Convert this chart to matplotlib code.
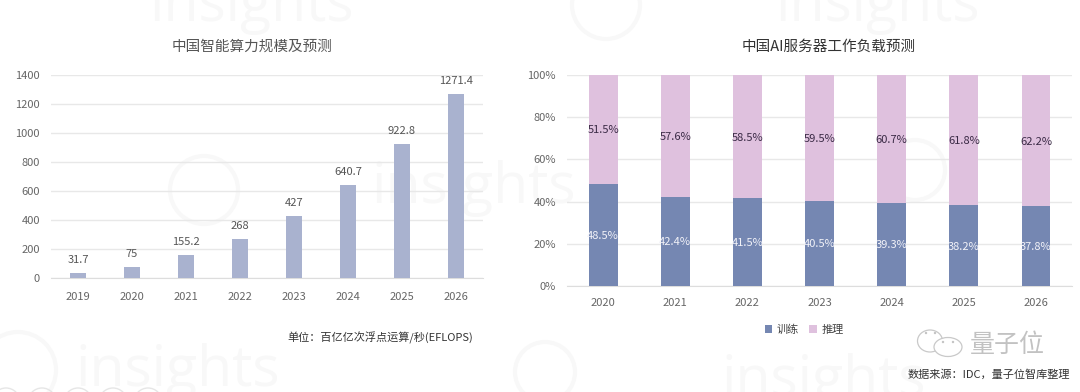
import matplotlib
matplotlib.use('Agg')
import matplotlib.pyplot as plt
from matplotlib.patches import Circle, Ellipse
import numpy as np

plt.rcParams['font.family'] = ['Noto Sans CJK SC', 'DejaVu Sans']

years_left = ['2019', '2020', '2021', '2022', '2023', '2024', '2025', '2026']
compute = [31.7, 75, 155.2, 268, 427, 640.7, 922.8, 1271.4]
compute_labels = ['31.7', '75', '155.2', '268', '427', '640.7', '922.8', '1271.4']

years_right = ['2020', '2021', '2022', '2023', '2024', '2025', '2026']
training = [48.5, 42.4, 41.5, 40.5, 39.3, 38.2, 37.8]
inference = [51.5, 57.6, 58.5, 59.5, 60.7, 61.8, 62.2]

W, H = 1080, 392
fig = plt.figure(figsize=(W / 100, H / 100), dpi=100)


def px_axes(x0, y0, x1, y1):
    # pixel box, y measured from the top
    return fig.add_axes([x0 / W, 1 - y1 / H, (x1 - x0) / W, (y1 - y0) / H])


# faint watermarks behind everything
bg = fig.add_axes([0, 0, 1, 1], zorder=0)
bg.set_xlim(0, W)
bg.set_ylim(H, 0)
bg.axis('off')
wm = '#f8f8f8'
for x, y in [(150, 6), (776, 6), (372, 188), (76, 372), (722, 382)]:
    bg.text(x, y, 'insights', color=wm, fontsize=41, va='center', ha='left',
            family='Open Sans')
for x, y, r in [(204, 190, 34), (606, 5, 34), (18, 370, 38), (545, 372, 30), (915, 170, 30)]:
    bg.add_patch(Circle((x, y), r, fill=False, ec=wm, lw=3))
# row of small rings cut by the bottom edge
for x in [6, 42, 78, 113, 148]:
    bg.add_patch(Circle((x, 402), 14, fill=False, ec='#e6e6e6', lw=1))

# left chart
ax = px_axes(51, 75, 483, 277.7)
ax.set_zorder(1)
ax.patch.set_alpha(0)
x = np.arange(len(years_left))
ax.bar(x, compute, width=0.31, color='#a9b2cf', zorder=3)
for xi, v, s in zip(x, compute, compute_labels):
    ax.text(xi, v + 55, s, ha='center', va='bottom', fontsize=8, color='#555555', zorder=4)
ax.set_xlim(-0.5, 7.5)
ax.set_ylim(0, 1400)
ax.set_yticks(range(0, 1401, 200))
ax.set_xticks(x)
ax.set_xticklabels(years_left)
ax.grid(axis='y', color='#e8e8e8', lw=1, zorder=0)
ax.tick_params(length=0, labelsize=8, labelcolor='#666666')
ax.tick_params(axis='x', pad=10)
ax.tick_params(axis='y', pad=8)
for s in ['top', 'right', 'left']:
    ax.spines[s].set_visible(False)
ax.spines['bottom'].set_color('#dddddd')
fig.text(252 / W, 1 - 47 / H, '中国智能算力规模及预测', ha='center', va='center',
         fontsize=10.5, color='#555555')
fig.text(380 / W, 1 - 338 / H, '单位：百亿亿次浮点运算/秒(EFLOPS)', ha='center', va='center',
         fontsize=8, color='#333333')

# right chart
ax2 = px_axes(567, 75, 1072, 286)
ax2.set_zorder(1)
ax2.patch.set_alpha(0)
x2 = np.arange(len(years_right))
ax2.bar(x2, training, width=0.4, color='#7587b2', zorder=3, label='训练')
ax2.bar(x2, inference, width=0.4, bottom=training, color='#dfc1de', zorder=3, label='推理')
for xi, t, i in zip(x2, training, inference):
    ax2.text(xi, t / 2 - 0.4, '%.1f%%' % t, ha='center', va='center', fontsize=8,
             color='#f2f2f8', zorder=4)
    ax2.text(xi, t + i / 2 - 0.5, '%.1f%%' % i, ha='center', va='center', fontsize=8,
             color='#3a2a45', zorder=4)
ax2.set_xlim(-0.5, 6.5)
ax2.set_ylim(0, 100)
ax2.set_yticks(range(0, 101, 20))
ax2.set_yticklabels(['%d%%' % v for v in range(0, 101, 20)])
ax2.set_xticks(x2)
ax2.set_xticklabels(years_right)
ax2.grid(axis='y', color='#e8e8e8', lw=1, zorder=0)
ax2.tick_params(length=0, labelsize=8, labelcolor='#666666')
ax2.tick_params(axis='x', pad=9)
ax2.tick_params(axis='y', pad=8)
for s in ['top', 'right', 'left']:
    ax2.spines[s].set_visible(False)
ax2.spines['bottom'].set_color('#dddddd')
fig.text(829 / W, 1 - 47 / H, '中国AI服务器工作负载预测', ha='center', va='center',
         fontsize=10.5, color='#333333')
ax2.legend(loc='center', bbox_to_anchor=(804 / W, 1 - 330 / H), bbox_transform=fig.transFigure,
           ncol=2, frameon=False, fontsize=8, handlelength=0.7, handleheight=0.7,
           handletextpad=0.4, columnspacing=0.9, labelcolor='#444444')

# account mark, bottom right
for (cx, cy, w, h) in [(930, 341, 25, 22), (948, 347, 28, 19)]:
    bg.add_patch(Ellipse((cx, cy), w, h, fc='white', ec='#c9c9c9', lw=0.9))
for (cx, cy) in [(926, 333), (935, 333), (943, 342), (953, 342)]:
    bg.add_patch(Circle((cx, cy), 1.2, fc='#c4c4c4', ec='none'))
fig.text(1007 / W, 1 - 345 / H, '量子位', ha='center', va='center', fontsize=18,
         color='#c2c2c2', zorder=5)
fig.text(989 / W, 1 - 374 / H, '数据来源：IDC，量子位智库整理', ha='center', va='center',
         fontsize=8, color='#333333')

fig.savefig('out.png', dpi=100)
